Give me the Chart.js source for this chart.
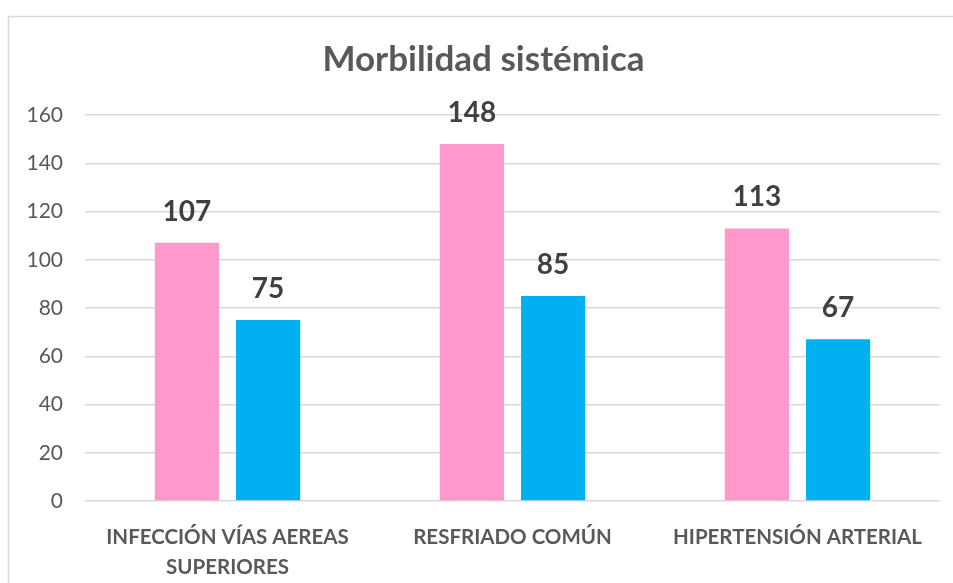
<!DOCTYPE html>
<html lang="es">
<head>
    <meta charset="UTF-8">
    <title>Morbilidad sistémica</title>
    <script src="https://cdn.jsdelivr.net/npm/chart.js"></script>
    <style>
        html, body {
            margin: 0;
            padding: 0;
            background: #ffffff;
        }
        .chart-box {
            width: 953px;
            height: 583px;
        }
    </style>
</head>
<body>
<div class="chart-box">
    <canvas id="morbilidadChart" width="953" height="583"></canvas>
</div>

<script>
    // Datos
    const categorias = [["INFECCIÓN VÍAS AEREAS", "SUPERIORES"], "RESFRIADO COMÚN", "HIPERTENSIÓN ARTERIAL"];
    const serieRosa = [107, 148, 113];
    const serieAzul = [75, 85, 67];
    const ticksY = [0, 20, 40, 60, 80, 100, 120, 140, 160];

    const fuente = "Lato, 'Open Sans', sans-serif";
    const grisTexto = "#595959";

    // Marco del gráfico (borde gris claro)
    const marco = {
        id: "marco",
        beforeDraw(chart) {
            const ctx = chart.ctx;
            ctx.save();
            ctx.strokeStyle = "#d9d9d9";
            ctx.lineWidth = 1.5;
            ctx.beginPath();
            ctx.moveTo(8.5, chart.height);
            ctx.lineTo(8.5, 16.5);
            ctx.lineTo(chart.width, 16.5);
            ctx.stroke();
            ctx.restore();
        }
    };

    // Etiquetas de valor encima de cada barra
    const etiquetas = {
        id: "etiquetas",
        afterDatasetsDraw(chart) {
            const ctx = chart.ctx;
            ctx.save();
            ctx.font = "bold 28px " + fuente;
            ctx.fillStyle = "#404040";
            ctx.textAlign = "center";
            ctx.textBaseline = "middle";
            chart.data.datasets.forEach((ds, i) => {
                chart.getDatasetMeta(i).data.forEach((bar, j) => {
                    ctx.fillText(ds.data[j], bar.x, bar.y - 31);
                });
            });
            ctx.restore();
        }
    };

    new Chart(document.getElementById("morbilidadChart"), {
        type: "bar",
        data: {
            labels: categorias,
            datasets: [
                { label: "Serie 1", data: serieRosa, backgroundColor: "#ff99cc" },
                { label: "Serie 2", data: serieAzul, backgroundColor: "#00b0f0" }
            ]
        },
        options: {
            responsive: false,
            animation: false,
            categoryPercentage: 0.57,
            barPercentage: 0.79,
            layout: { padding: { left: 27, right: 13, top: 0, bottom: 0 } },
            plugins: {
                legend: { display: false },
                tooltip: { enabled: false },
                title: {
                    display: true,
                    text: "Morbilidad sistémica",
                    color: grisTexto,
                    font: { family: fuente, size: 35, weight: "bold" },
                    padding: { top: 39, bottom: 34 }
                }
            },
            scales: {
                x: {
                    grid: { display: false },
                    border: { display: false },
                    ticks: {
                        color: grisTexto,
                        font: { family: fuente, size: 20.5, weight: "bold", lineHeight: 1.45 },
                        maxRotation: 0,
                        autoSkip: false,
                        padding: 14
                    },
                    afterFit(scale) { scale.height = 82; }
                },
                y: {
                    min: 0,
                    max: 160,
                    afterBuildTicks(scale) { scale.ticks = ticksY.map(v => ({ value: v })); },
                    grid: { color: "#d9d9d9", lineWidth: 1.5, drawTicks: false },
                    border: { display: false },
                    ticks: {
                        color: grisTexto,
                        font: { family: fuente, size: 21 },
                        padding: 22
                    },
                    afterFit(scale) { scale.width = 58; }
                }
            }
        },
        plugins: [marco, etiquetas]
    });
</script>
</body>
</html>
